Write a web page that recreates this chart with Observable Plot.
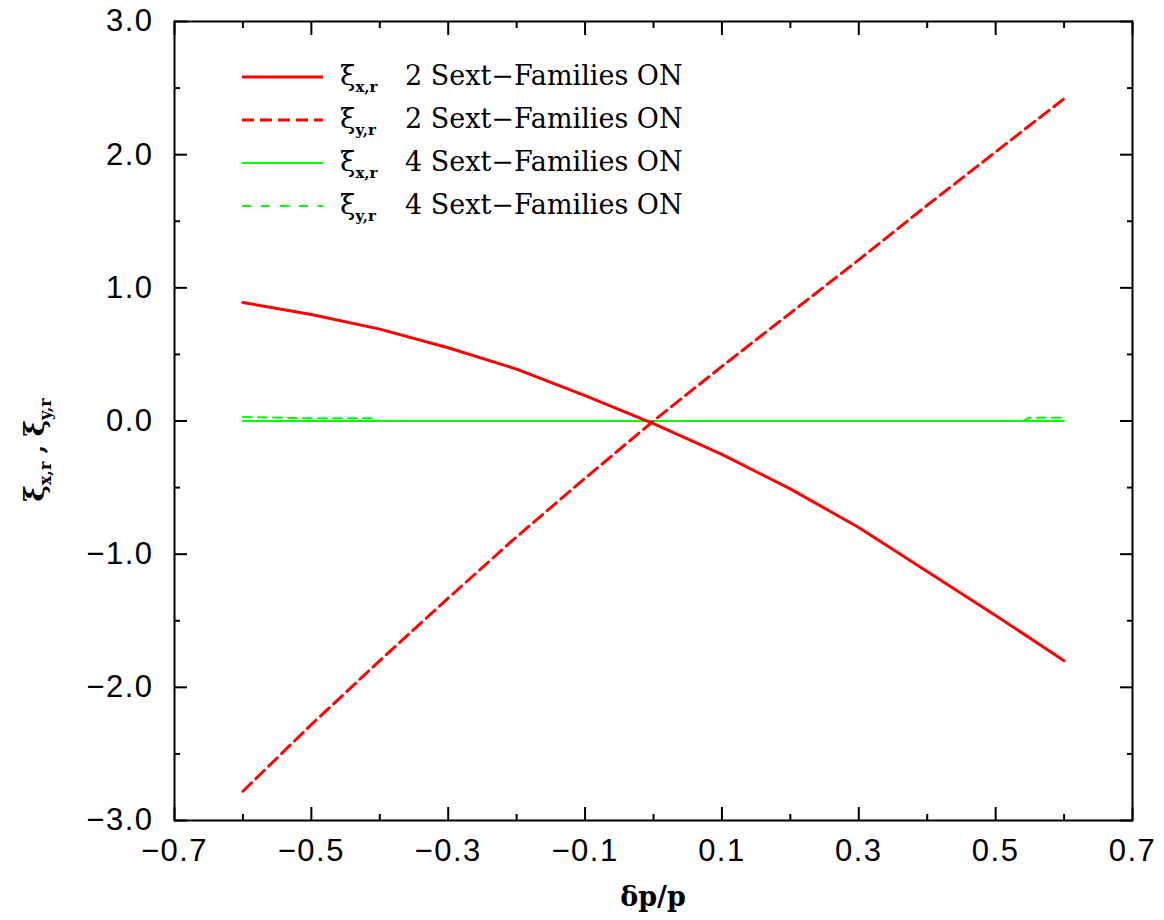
<!DOCTYPE html>
<html><head><meta charset="utf-8">
<script src="https://cdn.jsdelivr.net/npm/d3@7"></script>
<script src="https://cdn.jsdelivr.net/npm/@observablehq/plot@0.6"></script>
<style>
body{margin:0;background:#fff}
#chart{position:relative;width:1164px;height:920px}
#chart svg .tick-label text{letter-spacing:1.5px}
</style>
</head><body><div id="chart"></div>
<script>
// ---- data ----
const xs = [-0.6,-0.5,-0.4,-0.3,-0.2,-0.1,0.0,0.1,0.2,0.3,0.4,0.5,0.6];
const xiX2 = [0.89,0.80,0.69,0.55,0.39,0.19,-0.02,-0.25,-0.51,-0.80,-1.13,-1.46,-1.80];
const xiY2 = [-2.78,-2.28,-1.80,-1.33,-0.87,-0.43,0.0,0.41,0.81,1.21,1.62,2.02,2.42];
const xiX4 = [0.0,0.0,0.0,0.0,0.0,0.0,0.0,0.0,0.0,0.0,0.0,0.0,0.0];
const xsY4 = [-0.6,-0.5,-0.41,-0.4,-0.3,-0.2,-0.1,0.0,0.1,0.2,0.3,0.4,0.5,0.54,0.55,0.6];
const xiY4 = [0.03,0.02,0.02,0.0,0.0,0.0,0.0,0.0,0.0,0.0,0.0,0.0,0.0,0.0,0.025,0.025];
const xMajor = [-0.7,-0.5,-0.3,-0.1,0.1,0.3,0.5,0.7];
const xMinor = [-0.6,-0.4,-0.2,0.0,0.2,0.4,0.6];
const yMajor = [-3,-2,-1,0,1,2,3];
const yMinor = [-2.5,-1.5,-0.5,0.5,1.5,2.5];
const legendItems = [
  {sub:"x,r", text:"2 Sext\u2212Families ON", color:"#ff0000", dash:null, w:3},
  {sub:"y,r", text:"2 Sext\u2212Families ON", color:"#ff0000", dash:"12,6", w:3},
  {sub:"x,r", text:"4 Sext\u2212Families ON", color:"#00ff00", dash:null, w:2},
  {sub:"y,r", text:"4 Sext\u2212Families ON", color:"#00ff00", dash:"9,10", w:2}
];

const toRows = (X, Y) => X.map((x, i) => ({x, y: Y[i]}));
const fmt = d => d.toFixed(1).replace("-", "\u2212");
const blank = () => "";

const plot = Plot.plot({
  width: 1164, height: 920,
  marginLeft: 174, marginRight: 32, marginTop: 21, marginBottom: 100,
  x: {domain: [-0.7, 0.7]},
  y: {domain: [-3, 3]},
  style: {fontFamily: "Liberation Sans, Arial, sans-serif", color: "black", background: "white"},
  marks: [
    Plot.line(toRows(xs, xiX4), {x: "x", y: "y", stroke: "#00ff00", strokeWidth: 2}),
    Plot.line(toRows(xsY4, xiY4), {x: "x", y: "y", stroke: "#00ff00", strokeWidth: 2, strokeDasharray: "9,6"}),
    Plot.line(toRows(xs, xiX2), {x: "x", y: "y", stroke: "#ff0000", strokeWidth: 3}),
    Plot.line(toRows(xs, xiY2), {x: "x", y: "y", stroke: "#ff0000", strokeWidth: 3, strokeDasharray: "12,6"}),
    Plot.frame({stroke: "black", strokeWidth: 2}),
    // inward ticks on all four sides
    Plot.axisX(xMajor, {anchor: "bottom", tickSize: -13, strokeWidth: 2, tickFormat: blank, label: null}),
    Plot.axisX(xMinor, {anchor: "bottom", tickSize: -6, strokeWidth: 2, tickFormat: blank, label: null}),
    Plot.axisX(xMajor, {anchor: "top", tickSize: -13, strokeWidth: 2, tickFormat: blank, label: null}),
    Plot.axisX(xMinor, {anchor: "top", tickSize: -6, strokeWidth: 2, tickFormat: blank, label: null}),
    Plot.axisY(yMajor, {anchor: "left", tickSize: -13, strokeWidth: 2, tickFormat: blank, label: null}),
    Plot.axisY(yMinor, {anchor: "left", tickSize: -6, strokeWidth: 2, tickFormat: blank, label: null}),
    Plot.axisY(yMajor, {anchor: "right", tickSize: -13, strokeWidth: 2, tickFormat: blank, label: null}),
    Plot.axisY(yMinor, {anchor: "right", tickSize: -6, strokeWidth: 2, tickFormat: blank, label: null}),
    // tick labels
    Plot.axisX(xMajor, {anchor: "bottom", tickSize: 0, tickPadding: 18, tickFormat: fmt, fontSize: 31, label: null, className: "tick-label"}),
    Plot.axisY(yMajor, {anchor: "left", tickSize: 0, tickPadding: 21, tickFormat: fmt, fontSize: 31, label: null, className: "tick-label"})
  ]
});
document.getElementById("chart").appendChild(plot);

const svg = d3.select(plot);
// legend
const lg = svg.append("g").attr("font-family", "DejaVu Serif, Liberation Serif, serif")
  .attr("text-anchor", "start");
legendItems.forEach((d, i) => {
  const cy = 77 + i * 43;
  lg.append("line").attr("x1", 242).attr("x2", 323).attr("y1", cy).attr("y2", cy)
    .attr("stroke", d.color).attr("stroke-width", d.w).attr("stroke-dasharray", d.dash);
  const t = lg.append("text").attr("x", 340).attr("y", cy + 8).attr("fill", "black");
  t.append("tspan").attr("font-size", 28).text("\u03BE");
  t.append("tspan").attr("font-size", 15).attr("font-weight", "bold").attr("dy", 7).text(d.sub);
  t.append("tspan").attr("x", 405).attr("dy", -7).attr("font-size", 27).text(d.text);
});
// y-axis label
const yl = svg.append("text").attr("transform", "translate(44,450) rotate(-90)")
  .attr("text-anchor", "middle").attr("font-family", "DejaVu Serif, Liberation Serif, serif")
  .attr("font-weight", "bold").attr("fill", "black");
yl.append("tspan").attr("font-size", 28).text("\u03BE");
yl.append("tspan").attr("font-size", 16).attr("dy", 7).text("x,r");
yl.append("tspan").attr("font-size", 24).attr("dy", -7).text(" , ");
yl.append("tspan").attr("font-size", 28).text("\u03BE");
yl.append("tspan").attr("font-size", 16).attr("dy", 7).text("y,r");
// x-axis label
svg.append("text").attr("x", 653).attr("y", 906).attr("text-anchor", "middle")
  .attr("font-family", "DejaVu Serif, Liberation Serif, serif").attr("font-weight", "bold")
  .attr("font-size", 27).attr("fill", "black").text("\u03B4p/p");
</script>
</body></html>
